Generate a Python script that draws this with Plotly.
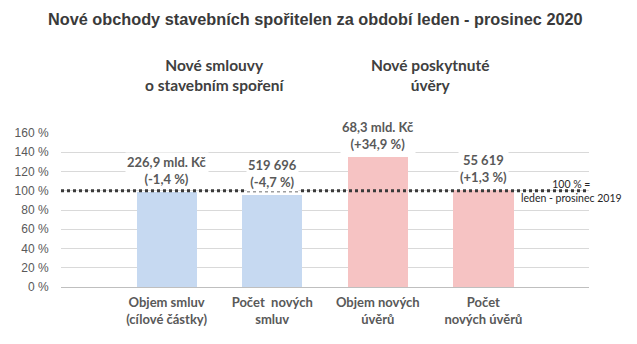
import plotly.graph_objects as go

# ---- data ----
categories = ["Objem smluv<br>(cílové částky)", "Počet  nových<br>smluv",
              "Objem nových<br>úvěrů", "Počet<br>nových úvěrů"]
positions = [1, 2, 3, 4]
values_pct = [98.6, 95.3, 134.9, 101.3]
value_labels = ["226,9 mld. Kč<br>(-1,4 %)", "519 696<br>(-4,7 %)",
                "68,3 mld. Kč<br>(+34,9 %)", "55 619<br>(+1,3 %)"]
bar_colors = ["#c6d9f1", "#c6d9f1", "#f6c3c3", "#f6c3c3"]
group_titles = ["Nové smlouvy<br>o stavebním spoření", "Nové poskytnuté<br>úvěry"]
group_centers = [1.45, 3.5]
ref_level = 100
ref_x = [0, 5]
y_ticks = [0, 20, 40, 60, 80, 100, 120, 140, 160]
y_tick_labels = [f"{v} %" for v in y_ticks]
title_text = "Nové obchody stavebních spořitelen za období leden - prosinec 2020"
ref_text = "100 % =<br>leden - prosinec 2019"

LABEL_FONT = "Lato, 'Open Sans', sans-serif"
GREY = "#595959"

fig = go.Figure()
fig.add_trace(go.Bar(x=positions, y=values_pct, width=0.57,
                     marker=dict(color=bar_colors, line=dict(width=0)),
                     hoverinfo="skip"))
fig.add_trace(go.Scatter(x=ref_x, y=[ref_level, ref_level], mode="lines",
                         line=dict(color="#3a3a3a", width=3, dash="dot"),
                         hoverinfo="skip"))

annotations = []
for x, v, t in zip(positions, values_pct, value_labels):
    annotations.append(dict(x=x, y=v, xref="x", yref="y", text="<b>" + t + "</b>",
                            showarrow=False, yanchor="bottom", yshift=3,
                            bgcolor="white", borderpad=1,
                            font=dict(family=LABEL_FONT, size=13, color=GREY)))
for x, t in zip(group_centers, group_titles):
    annotations.append(dict(x=x, y=1, xref="x", yref="paper", text="<b>" + t + "</b>",
                            showarrow=False, yanchor="middle", yshift=58,
                            font=dict(family=LABEL_FONT, size=15.5, color="#404040")))
annotations.append(dict(x=4.83, y=ref_level, xref="x", yref="y", text=ref_text,
                        showarrow=False, yanchor="middle", yshift=0,
                        font=dict(family=LABEL_FONT, size=10.5, color="#262626")))

fig.update_layout(
    width=637, height=344,
    margin=dict(l=61, r=48, t=133, b=57),
    paper_bgcolor="white", plot_bgcolor="white",
    showlegend=False,
    title=dict(text="<b>" + title_text + "</b>", x=0.495, xanchor="center",
               y=1 - 19 / 344, yanchor="middle",
               font=dict(family="Liberation Sans, Arial, sans-serif", size=16.3,
                         color="#3a3a3a")),
    xaxis=dict(range=[0, 5], tickvals=positions,
               ticktext=["<b>" + c + "</b>" for c in categories],
               showgrid=False, zeroline=False, showline=True,
               linecolor="#bfbfbf", linewidth=1, ticks="outside", ticklen=3,
               tickcolor="rgba(0,0,0,0)",
               tickfont=dict(family=LABEL_FONT, size=13, color=GREY)),
    yaxis=dict(range=[0, 160], tickmode="array", tickvals=y_ticks,
               ticktext=y_tick_labels,
               showgrid=True, gridcolor="#d9d9d9", gridwidth=1,
               zeroline=False, showline=False,
               ticks="outside", ticklen=9, tickcolor="rgba(0,0,0,0)",
               tickfont=dict(family="Liberation Sans, Arial, sans-serif",
                             size=12, color=GREY)),
    annotations=annotations,
    bargap=0,
)

fig.write_html("out.html")
